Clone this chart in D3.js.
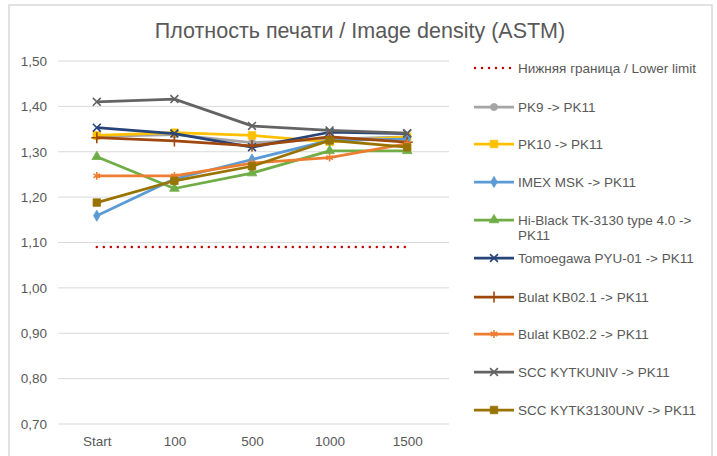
<!DOCTYPE html>
<html>
<head>
<meta charset="utf-8">
<script src="https://cdn.jsdelivr.net/npm/d3@7"></script>
<style>
  body { margin: 0; background: #fff; }
  text { font-family: "Liberation Sans", Arial, sans-serif; fill: #595959; }
</style>
</head>
<body>
<svg id="chart" width="717" height="456"></svg>
<script>
// data
var categories = ["Start", "100", "500", "1000", "1500"];
var yTicks = [0.7, 0.8, 0.9, 1.0, 1.1, 1.2, 1.3, 1.4, 1.5];

var lowerLimit = [1.09, 1.09, 1.09, 1.09, 1.09];
var pk9 = [1.334, 1.338, 1.320, 1.328, 1.333];
var pk10 = [1.336, 1.342, 1.336, 1.322, 1.333];
var imex = [1.159, 1.240, 1.283, 1.325, 1.328];
var hiBlack = [1.289, 1.219, 1.253, 1.302, 1.302];
var tomoegawa = [1.353, 1.340, 1.310, 1.343, 1.340];
var bulat1 = [1.331, 1.324, 1.313, 1.333, 1.321];
var bulat2 = [1.247, 1.247, 1.275, 1.287, 1.318];
var sccUniv = [1.410, 1.416, 1.357, 1.347, 1.341];
var scc3130 = [1.188, 1.236, 1.268, 1.325, 1.310];

var series = [
  { name: "PK9 -> PK11", values: pk9, color: "#a5a5a5", marker: "circle" },
  { name: "PK10 -> PK11", values: pk10, color: "#ffc000", marker: "square" },
  { name: "IMEX MSK -> PK11", values: imex, color: "#5b9bd5", marker: "diamond" },
  { name: ["Hi-Black TK-3130 type 4.0 ->", "PK11"], values: hiBlack, color: "#70ad47", marker: "triangle" },
  { name: "Tomoegawa PYU-01 -> PK11", values: tomoegawa, color: "#264478", marker: "x" },
  { name: "Bulat KB02.1 -> PK11", values: bulat1, color: "#9e480e", marker: "plus" },
  { name: "Bulat KB02.2 -> PK11", values: bulat2, color: "#ed7d31", marker: "star" },
  { name: "SCC KYTKUNIV -> PK11", values: sccUniv, color: "#636363", marker: "x" },
  { name: "SCC KYTK3130UNV -> PK11", values: scc3130, color: "#997300", marker: "square" }
];

var svg = d3.select("#chart");
var margin = { top: 61, bottom: 424, left: 58, right: 446 };

// chart area border
svg.append("rect")
   .attr("x", 9).attr("y", 5)
   .attr("width", 703).attr("height", 460)
   .attr("fill", "#fff")
   .attr("stroke", "#d9d9d9")
   .attr("stroke-width", 1.5);

// title
svg.append("text")
   .attr("x", 360).attr("y", 38)
   .attr("text-anchor", "middle")
   .style("font-size", "21.5px")
   .text("Плотность печати / Image density (ASTM)");

// scales
var x = d3.scalePoint()
    .domain(categories)
    .range([margin.left, margin.right])
    .padding(0.5);

var y = d3.scaleLinear()
    .domain([0.7, 1.5])
    .range([margin.bottom, margin.top]);

var fmt = function(d) { return d3.format(".2f")(d).replace(".", ","); };

// gridlines
svg.append("g")
   .selectAll("line")
   .data(yTicks)
   .enter()
   .append("line")
   .attr("x1", margin.left).attr("x2", 449)
   .attr("y1", function(d) { return y(d); })
   .attr("y2", function(d) { return y(d); })
   .attr("stroke", "#d9d9d9")
   .attr("stroke-width", 1);

// y axis labels
var yAxis = d3.axisLeft(y).tickValues(yTicks).tickFormat(fmt).tickSize(0).tickPadding(11);
var gy = svg.append("g")
   .attr("transform", "translate(" + margin.left + ",0)")
   .call(yAxis);
gy.select(".domain").remove();
gy.selectAll("text").style("font-size", "13.5px").style("fill", "#595959").style("font-family", "Liberation Sans, Arial, sans-serif");

// x axis labels
var xAxis = d3.axisBottom(x).tickSize(0).tickPadding(12);
var gx = svg.append("g")
   .attr("transform", "translate(0," + margin.bottom + ")")
   .call(xAxis);
gx.select(".domain").remove();
gx.selectAll("text").style("font-size", "13.5px").style("fill", "#595959").style("font-family", "Liberation Sans, Arial, sans-serif");

var line = d3.line()
    .x(function(d, i) { return x(categories[i]); })
    .y(function(d) { return y(d); });

// lower limit, dotted
svg.append("path")
   .datum(lowerLimit)
   .attr("d", line)
   .attr("fill", "none")
   .attr("stroke", "#c00000")
   .attr("stroke-width", 2.5)
   .attr("stroke-linecap", "round")
   .attr("stroke-dasharray", "0,7");

function markerPath(type) {
  var s;
  if (type == "circle") s = d3.symbol().type(d3.symbolCircle).size(40);
  else if (type == "square") s = d3.symbol().type(d3.symbolSquare).size(56);
  else if (type == "diamond") s = d3.symbol().type(d3.symbolDiamond).size(36);
  else if (type == "triangle") s = d3.symbol().type(d3.symbolTriangle).size(40);
  else if (type == "x") s = d3.symbol().type(d3.symbolX).size(42);
  else if (type == "plus") s = d3.symbol().type(d3.symbolPlus).size(42);
  else s = d3.symbol().type(d3.symbolAsterisk).size(42);
  return s();
}
function isStroke(type) {
  return type == "x" || type == "plus" || type == "star";
}

function drawMarker(g, type, color, cx, cy) {
  g.append("path")
   .attr("d", markerPath(type))
   .attr("transform", "translate(" + cx + "," + cy + ")")
   .attr("fill", isStroke(type) ? "none" : color)
   .attr("stroke", color)
   .attr("stroke-width", isStroke(type) ? 1.6 : 0.8);
}

// series lines and markers
series.forEach(function(s) {
  var g = svg.append("g");
  g.append("path")
   .datum(s.values)
   .attr("d", line)
   .attr("fill", "none")
   .attr("stroke", s.color)
   .attr("stroke-width", 2.75)
   .attr("stroke-linejoin", "round");
  s.values.forEach(function(v, i) {
    drawMarker(g, s.marker, s.color, x(categories[i]), y(v));
  });
});

// legend
var legendY = [68, 107, 144, 182, 220, 258, 297, 334, 372, 410];
var lg = svg.append("g");

lg.append("line")
  .attr("x1", 475).attr("x2", 512)
  .attr("y1", legendY[0]).attr("y2", legendY[0])
  .attr("stroke", "#c00000")
  .attr("stroke-width", 2.5)
  .attr("stroke-linecap", "round")
  .attr("stroke-dasharray", "0,7");
lg.append("text")
  .attr("x", 518).attr("y", legendY[0] + 4.5)
  .style("font-size", "13.5px")
  .text("Нижняя граница / Lower limit");

series.forEach(function(s, i) {
  var ly = legendY[i + 1];
  lg.append("line")
    .attr("x1", 474).attr("x2", 514)
    .attr("y1", ly).attr("y2", ly)
    .attr("stroke", s.color)
    .attr("stroke-width", 2.75);
  drawMarker(lg, s.marker, s.color, 494, ly);
  var names = Array.isArray(s.name) ? s.name : [s.name];
  var t = lg.append("text")
    .attr("x", 518).attr("y", ly + 4.5)
    .style("font-size", "13.5px");
  names.forEach(function(n, k) {
    t.append("tspan")
     .attr("x", 518)
     .attr("dy", k == 0 ? 0 : 15.5)
     .text(n);
  });
});
</script>
</body>
</html>
